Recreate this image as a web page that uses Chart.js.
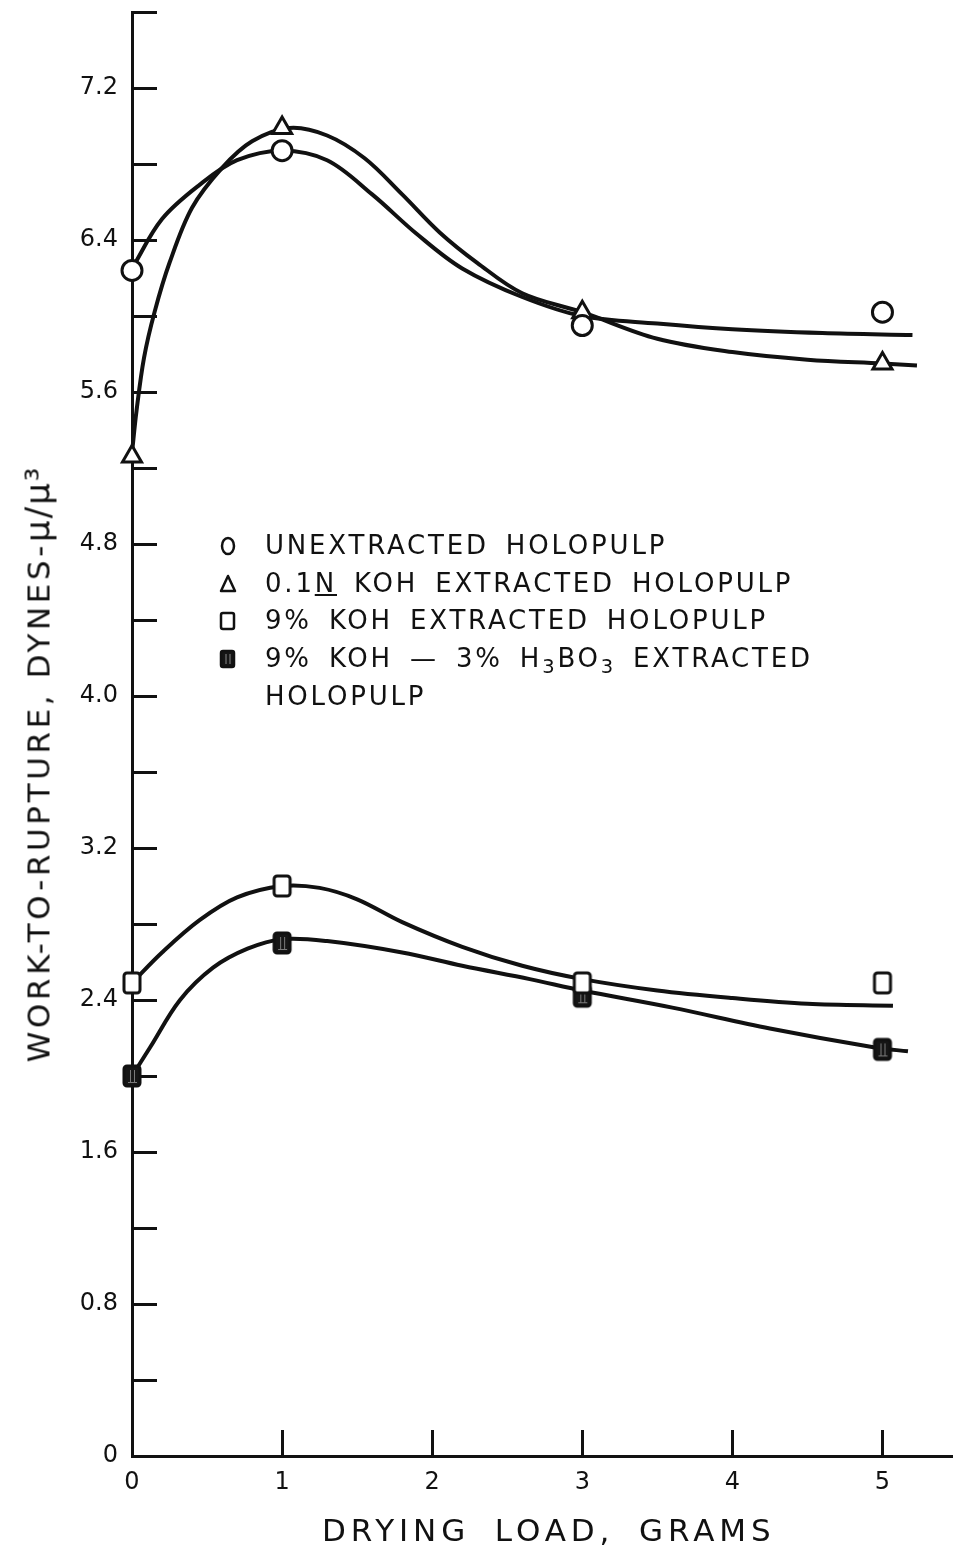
<!DOCTYPE html>
<html>
<head>
<meta charset="utf-8">
<script src="https://cdn.jsdelivr.net/npm/chart.js@4.4.1/dist/chart.umd.min.js"></script>
<style>
    html, body { margin: 0; padding: 0; background: #fff; }
    #wrap { position: relative; width: 953px; height: 1562px; font-family: "DejaVu Sans", sans-serif; color: #111; }
    #chart { position: absolute; left: 0; top: 0; }
    .xtitle { position: absolute; left: 322px; top: 1512px; font-size: 31px; letter-spacing: 4.9px; word-spacing: 10px; white-space: nowrap; line-height: 36px; }
    .ytitle-anchor { position: absolute; left: 38px; top: 764px; }
    .ytitle { position: absolute; left: 0; top: 0; white-space: nowrap; font-size: 31px; letter-spacing: 3.6px; line-height: 36px; transform: translate(-50%, -50%) rotate(-90deg); }
    .ytitle .mu { font-size: 34px; letter-spacing: 2px; }
    .legend { position: absolute; left: 0; top: 0; }
    .legend .row { position: absolute; left: 265px; height: 36px; line-height: 36px; font-size: 26px; letter-spacing: 2.8px; word-spacing: 6px; white-space: nowrap; }
    .legend svg { position: absolute; left: -47px; top: 9px; }
    .legend sub { font-size: 0.75em; vertical-align: -0.3em; line-height: 0; }
</style>
</head>
<body>
<div id="wrap">
    <canvas id="chart" width="953" height="1562"></canvas>
    <div class="ytitle-anchor"><div class="ytitle">WORK-TO-RUPTURE, DYNES-<span class="mu">μ/μ³</span></div></div>
    <div class="xtitle">DRYING LOAD, GRAMS</div>
    <div class="legend">
        <div class="row" style="top:527px">
            <svg width="20" height="20"><ellipse cx="10" cy="10" rx="6" ry="8" fill="none" stroke="#111" stroke-width="2.5"/></svg>UNEXTRACTED HOLOPULP
        </div>
        <div class="row" style="top:565px">
            <svg width="20" height="20"><path d="M10 2 L17 17 L3 17 Z" fill="none" stroke="#111" stroke-width="2.5" stroke-linejoin="round"/></svg>0.1<span style="text-decoration: underline">N</span> KOH EXTRACTED HOLOPULP
        </div>
        <div class="row" style="top:602px">
            <svg width="20" height="20"><rect x="3" y="2" width="13" height="16" rx="2" fill="none" stroke="#111" stroke-width="2.5"/></svg>9% KOH EXTRACTED HOLOPULP
        </div>
        <div class="row" style="top:640px">
            <svg width="20" height="20"><rect x="3" y="2" width="13" height="16" rx="2" fill="#151515" stroke="#111" stroke-width="2.5"/><path d="M8 5 V15 M12 5 V15" stroke="#888" stroke-width="1"/></svg>9% KOH — 3% H<sub>3</sub>BO<sub>3</sub> EXTRACTED
        </div>
        <div class="row" style="top:678px">HOLOPULP</div>
    </div>
</div>
<script>
// 干燥负荷 (克) 与各样品的实测点
const dryingLoads = [0, 1, 3, 5];
const unextracted = [6.24, 6.87, 5.95, 6.02];
const koh01N = [5.26, 6.99, 6.02, 5.75];
const koh9 = [2.49, 3.0, 2.49, 2.49];
const kohBoric = [2.0, 2.70, 2.42, 2.14];

// 手绘拟合曲线上读取的点
const unextractedCurveX = [0, 0.2, 0.45, 0.7, 1.0, 1.3, 1.6, 1.9, 2.2, 2.6, 3.0, 3.5, 4.0, 4.6, 5.2];
const unextractedCurveY = [6.25, 6.51, 6.69, 6.82, 6.87, 6.82, 6.64, 6.43, 6.25, 6.1, 6.0, 5.96, 5.93, 5.91, 5.9];
const koh01NCurveX = [0, 0.03, 0.08, 0.15, 0.25, 0.4, 0.6, 0.8, 1.05, 1.3, 1.55, 1.8, 2.05, 2.3, 2.6, 3.0, 3.5, 4.0, 4.5, 5.0, 5.23];
const koh01NCurveY = [5.28, 5.5, 5.78, 6.02, 6.28, 6.57, 6.78, 6.92, 6.99, 6.95, 6.83, 6.64, 6.44, 6.28, 6.12, 6.02, 5.88, 5.81, 5.77, 5.75, 5.74];
const koh9CurveX = [0, 0.2, 0.45, 0.7, 1.0, 1.25, 1.5, 1.8, 2.2, 2.6, 3.0, 3.5, 4.0, 4.5, 5.07];
const koh9CurveY = [2.49, 2.65, 2.82, 2.94, 3.0, 2.99, 2.93, 2.81, 2.68, 2.58, 2.51, 2.45, 2.41, 2.38, 2.37];
const kohBoricCurveX = [0, 0.12, 0.32, 0.54, 0.77, 1.0, 1.3, 1.8, 2.2, 2.65, 3.0, 3.6, 4.25, 4.95, 5.17];
const kohBoricCurveY = [2.0, 2.15, 2.4, 2.57, 2.67, 2.72, 2.71, 2.65, 2.58, 2.51, 2.45, 2.36, 2.25, 2.15, 2.13];

// 坐标轴刻度
const xTickValues = [0, 1, 2, 3, 4, 5];
const yTickValues = [0, 0.4, 0.8, 1.2, 1.6, 2.0, 2.4, 2.8, 3.2, 3.6, 4.0, 4.4, 4.8, 5.2, 5.6, 6.0, 6.4, 6.8, 7.2, 7.6];
const yTickLabels = ['0', '', '0.8', '', '1.6', '', '2.4', '', '3.2', '', '4.0', '', '4.8', '', '5.6', '', '6.4', '', '7.2', ''];

const INK = '#111';

function pairs(xs, ys) {
    return xs.map((x, i) => ({ x: x, y: ys[i] }));
}

// 方形标记（空心 / 实心）
function squareMarker(filled) {
    const c = document.createElement('canvas');
    c.width = 22;
    c.height = 26;
    const g = c.getContext('2d');
    g.lineWidth = 3;
    g.strokeStyle = INK;
    g.beginPath();
    g.roundRect(3, 3, 16, 20, 3);
    g.fillStyle = filled ? '#161616' : '#fff';
    g.fill();
    g.stroke();
    if (filled) {
        g.strokeStyle = '#7a7a7a';
        g.lineWidth = 1;
        g.beginPath();
        g.moveTo(9.5, 7); g.lineTo(9.5, 19);
        g.moveTo(13.5, 7); g.lineTo(13.5, 19);
        g.moveTo(7, 19.5); g.lineTo(16, 19.5);
        g.stroke();
    }
    return c;
}

function curve(xs, ys) {
    return {
        data: pairs(xs, ys),
        showLine: true,
        borderColor: INK,
        borderWidth: 4,
        pointRadius: 0,
        tension: 0.35,
        clip: false,
        order: 2
    };
}

function markers(ys, style, radius) {
    return {
        data: pairs(dryingLoads, ys),
        showLine: false,
        pointStyle: style,
        pointRadius: radius,
        pointBorderWidth: 3,
        pointBorderColor: INK,
        pointBackgroundColor: '#fff',
        clip: false,
        order: 1
    };
}

// 向内的刻度线
const inwardTicks = {
    id: 'inwardTicks',
    beforeDatasetsDraw(chart) {
        const { ctx, chartArea, scales } = chart;
        ctx.save();
        ctx.strokeStyle = INK;
        ctx.lineWidth = 3;
        ctx.beginPath();
        yTickValues.forEach(v => {
            if (v === 0) return;
            const py = Math.round(scales.y.getPixelForValue(v)) + 0.5;
            ctx.moveTo(chartArea.left, py);
            ctx.lineTo(chartArea.left + 25, py);
        });
        xTickValues.forEach(v => {
            if (v === 0) return;
            const px = Math.round(scales.x.getPixelForValue(v)) + 0.5;
            ctx.moveTo(px, chartArea.bottom);
            ctx.lineTo(px, chartArea.bottom - 26);
        });
        ctx.stroke();
        ctx.restore();
    }
};

const tickFont = { family: 'DejaVu Sans', size: 24 };

new Chart(document.getElementById('chart'), {
    type: 'scatter',
    data: {
        datasets: [
            curve(unextractedCurveX, unextractedCurveY),
            curve(koh01NCurveX, koh01NCurveY),
            curve(koh9CurveX, koh9CurveY),
            curve(kohBoricCurveX, kohBoricCurveY),
            markers(unextracted, 'circle', 10),
            markers(koh01N, 'triangle', 11),
            markers(koh9, squareMarker(false), 10),
            markers(kohBoric, squareMarker(true), 10)
        ]
    },
    options: {
        responsive: false,
        animation: false,
        devicePixelRatio: 1,
        layout: { autoPadding: false, padding: { top: 12, left: 0, right: 0, bottom: 0 } },
        plugins: { legend: { display: false }, tooltip: { enabled: false } },
        scales: {
            x: {
                type: 'linear',
                min: 0,
                max: 5.47,
                afterBuildTicks: s => { s.ticks = xTickValues.map(v => ({ value: v })); },
                afterFit: s => { s.height = 106; s.paddingLeft = 0; s.paddingRight = 0; },
                ticks: { autoSkip: false, maxRotation: 0, padding: 12, color: INK, font: tickFont, callback: v => String(v) },
                grid: { drawOnChartArea: false, drawTicks: false },
                border: { display: true, color: INK, width: 3 }
            },
            y: {
                type: 'linear',
                min: 0,
                max: 7.6,
                afterBuildTicks: s => { s.ticks = yTickValues.map(v => ({ value: v })); },
                afterFit: s => { s.width = 132; s.paddingTop = 0; s.paddingBottom = 0; },
                ticks: {
                    autoSkip: false,
                    padding: 14,
                    color: INK,
                    font: tickFont,
                    callback: (v, i) => yTickLabels[i]
                },
                grid: { drawOnChartArea: false, drawTicks: false },
                border: { display: true, color: INK, width: 3 }
            }
        }
    },
    plugins: [inwardTicks]
});
</script>
</body>
</html>
